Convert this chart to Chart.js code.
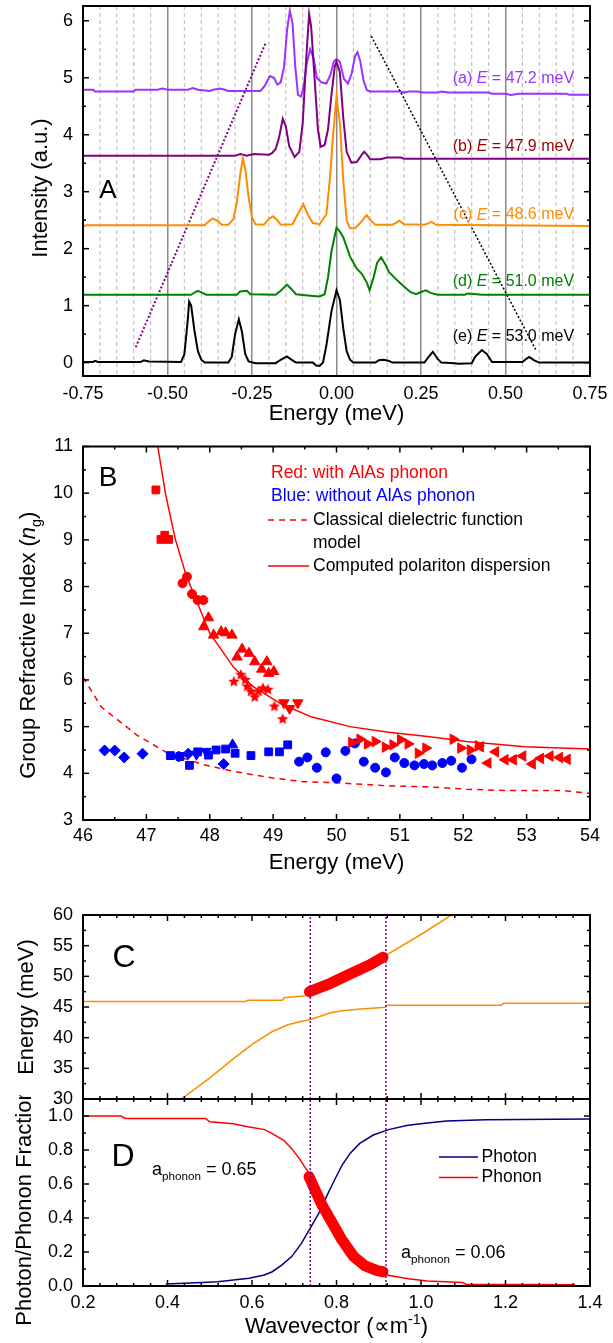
<!DOCTYPE html>
<html><head><meta charset="utf-8">
<script src="https://cdn.jsdelivr.net/npm/chart.js@4.4.1/dist/chart.umd.min.js"></script>
<style>
body{margin:0;background:#fff;width:613px;height:1343px;position:relative;overflow:hidden}
canvas{position:absolute;left:0}
</style></head><body>
<canvas id="cA" width="613" height="432" style="top:0px"></canvas>
<canvas id="cB" width="613" height="446" style="top:432px"></canvas>
<canvas id="cC" width="613" height="240" style="top:878px"></canvas>
<canvas id="cD" width="613" height="248" style="top:1095px"></canvas>
<script>
// ---------------- DATA ----------------
// Panel A: spectra [energy meV, intensity]
const specA = [[-0.75,4.79],[-0.72,4.79],[-0.715,4.76],[-0.60,4.76],[-0.595,4.79],[-0.53,4.79],[-0.515,4.81],[-0.50,4.79],[-0.44,4.79],[-0.425,4.82],[-0.41,4.79],[-0.375,4.77],[-0.365,4.79],[-0.345,4.81],[-0.33,4.79],[-0.32,4.77],[-0.225,4.77],[-0.212,4.86],[-0.197,5.03],[-0.185,5.0],[-0.175,4.88],[-0.165,4.92],[-0.155,5.2],[-0.146,5.85],[-0.138,6.18],[-0.13,5.95],[-0.122,5.2],[-0.114,4.7],[-0.105,4.67],[-0.097,4.85],[-0.088,5.25],[-0.078,5.5],[-0.068,5.35],[-0.058,5.0],[-0.045,4.92],[-0.03,4.9],[-0.018,5.05],[-0.008,5.28],[0.0,5.33],[0.01,5.28],[0.022,4.98],[0.034,4.9],[0.045,5.08],[0.055,5.38],[0.062,5.45],[0.07,5.3],[0.08,4.95],[0.09,4.78],[0.1,4.76],[0.19,4.76],[0.2,4.74],[0.215,4.76],[0.24,4.76],[0.255,4.74],[0.3,4.74],[0.31,4.76],[0.33,4.74],[0.45,4.74],[0.46,4.72],[0.5,4.72],[0.515,4.70],[0.54,4.72],[0.68,4.72],[0.69,4.70],[0.75,4.70]];
const specB = [[-0.75,3.63],[-0.30,3.63],[-0.285,3.66],[-0.265,3.63],[-0.245,3.66],[-0.20,3.65],[-0.19,3.68],[-0.18,3.75],[-0.17,3.95],[-0.159,4.28],[-0.15,4.15],[-0.14,3.8],[-0.124,3.61],[-0.11,3.7],[-0.10,4.2],[-0.09,5.3],[-0.081,6.12],[-0.075,5.9],[-0.065,5.0],[-0.055,4.1],[-0.047,3.79],[-0.035,3.82],[-0.025,4.1],[-0.015,4.7],[-0.005,5.2],[0.0,5.28],[0.01,5.1],[0.02,4.3],[0.03,3.7],[0.044,3.51],[0.06,3.52],[0.075,3.65],[0.082,3.70],[0.09,3.65],[0.10,3.57],[0.13,3.57],[0.15,3.6],[0.19,3.6],[0.2,3.58],[0.75,3.58]];
const specC = [[-0.75,2.39],[-0.74,2.41],[-0.39,2.41],[-0.38,2.47],[-0.367,2.53],[-0.35,2.48],[-0.34,2.42],[-0.32,2.42],[-0.305,2.52],[-0.295,2.8],[-0.285,3.3],[-0.277,3.58],[-0.27,3.4],[-0.26,2.9],[-0.25,2.55],[-0.24,2.43],[-0.215,2.42],[-0.20,2.52],[-0.188,2.57],[-0.175,2.5],[-0.165,2.42],[-0.13,2.43],[-0.115,2.6],[-0.098,2.78],[-0.085,2.6],[-0.07,2.45],[-0.05,2.43],[-0.03,2.6],[-0.02,3.2],[-0.01,4.0],[0.0,4.67],[0.01,4.2],[0.02,3.2],[0.03,2.5],[0.04,2.36],[0.055,2.36],[0.07,2.45],[0.089,2.59],[0.1,2.5],[0.115,2.42],[0.165,2.42],[0.175,2.45],[0.186,2.49],[0.20,2.43],[0.26,2.42],[0.27,2.44],[0.281,2.47],[0.295,2.42],[0.75,2.40]];
const specD = [[-0.75,1.19],[-0.43,1.19],[-0.42,1.23],[-0.41,1.26],[-0.395,1.22],[-0.385,1.19],[-0.295,1.19],[-0.285,1.25],[-0.265,1.26],[-0.255,1.2],[-0.18,1.19],[-0.165,1.26],[-0.147,1.37],[-0.135,1.3],[-0.12,1.2],[-0.07,1.17],[-0.05,1.16],[-0.035,1.2],[-0.025,1.5],[-0.015,1.95],[0.0,2.37],[0.01,2.3],[0.02,2.2],[0.04,1.86],[0.06,1.65],[0.075,1.56],[0.09,1.4],[0.098,1.27],[0.11,1.5],[0.12,1.75],[0.132,1.85],[0.145,1.72],[0.155,1.59],[0.175,1.47],[0.19,1.39],[0.218,1.24],[0.235,1.2],[0.25,1.24],[0.264,1.27],[0.28,1.22],[0.3,1.19],[0.38,1.19],[0.385,1.21],[0.4,1.21],[0.43,1.19],[0.75,1.19]];
const specE = [[-0.75,0.01],[-0.72,0.01],[-0.715,0.03],[-0.705,0.01],[-0.58,0.01],[-0.57,0.04],[-0.555,0.02],[-0.46,0.01],[-0.45,0.15],[-0.44,0.75],[-0.436,1.07],[-0.43,1.0],[-0.42,0.55],[-0.41,0.2],[-0.40,0.05],[-0.39,0.0],[-0.32,0.0],[-0.31,0.1],[-0.3,0.5],[-0.289,0.76],[-0.28,0.55],[-0.27,0.15],[-0.26,0.02],[-0.24,-0.01],[-0.18,-0.01],[-0.165,0.05],[-0.147,0.11],[-0.13,0.04],[-0.12,0.0],[-0.07,0.0],[-0.06,-0.05],[-0.05,-0.06],[-0.04,0.0],[-0.03,0.3],[-0.015,0.9],[0.0,1.27],[0.01,1.1],[0.02,0.6],[0.03,0.2],[0.04,0.05],[0.05,0.0],[0.115,0.0],[0.125,0.04],[0.14,0.05],[0.155,0.03],[0.165,0.0],[0.26,0.0],[0.275,0.12],[0.285,0.19],[0.3,0.06],[0.31,0.0],[0.35,-0.01],[0.36,-0.02],[0.4,-0.01],[0.41,0.1],[0.43,0.22],[0.445,0.15],[0.46,0.01],[0.55,0.01],[0.56,0.06],[0.57,0.1],[0.585,0.04],[0.6,0.0],[0.75,0.0]];
const guideLeft = [[-0.594,0.27],[-0.209,5.62]];
const guideRight = [[0.103,5.73],[0.589,0.23]];
const aXTicks = [-0.75,-0.5,-0.25,0,0.25,0.5,0.75];
const aXLabels = ['-0.75','-0.50','-0.25','0.00','0.25','0.50','0.75'];
const aYTicks = [0,1,2,3,4,5,6];
const aYLabels = ['0','1','2','3','4','5','6'];

// Panel B: group index [energy meV, n_g]
const redSquares = [[47.15,10.07],[47.23,9.01],[47.29,9.10],[47.35,9.01]];
const redCircles = [[47.57,8.07],[47.64,8.21],[47.72,7.84],[47.81,7.71],[47.90,7.71]];
const redTriUp = [[47.905,7.14],[47.98,7.33],[48.06,6.96],[48.18,7.03],[48.25,7.01],[48.35,6.96],[48.43,6.49],[48.51,6.66],[48.62,6.57],[48.71,6.39],[48.82,6.23],[48.90,6.39],[48.93,6.14],[49.01,6.18]];
const redStars = [[48.38,5.96],[48.49,6.11],[48.56,6.0],[48.59,5.86],[48.65,5.75],[48.71,5.63],[48.77,5.75],[48.84,5.82],[48.92,5.79],[49.02,5.43],[49.15,5.16]];
const redTriDown = [[49.17,5.51],[49.26,5.39],[49.39,5.51]];
const redTriRight = [[50.24,4.66],[50.37,4.73],[50.49,4.63],[50.61,4.68],[50.77,4.56],[50.89,4.61],[51.01,4.72],[51.13,4.63],[51.29,4.43],[51.41,4.54],[51.84,4.73],[51.96,4.54],[52.11,4.50],[52.24,4.59]];
const redTriLeft = [[52.27,4.57],[52.39,4.22],[52.51,4.46],[52.66,4.29],[52.79,4.29],[52.94,4.37],[53.09,4.20],[53.22,4.32],[53.37,4.37],[53.52,4.34],[53.64,4.30]];
const blueDiamonds = [[46.34,4.49],[46.5,4.49],[46.65,4.34],[46.94,4.42],[47.51,4.36],[47.66,4.42],[48.22,4.20]];
const blueSquares = [[47.38,4.38],[47.53,4.36],[47.68,4.17],[47.81,4.46],[47.98,4.39],[48.10,4.50],[48.25,4.52],[48.40,4.43],[48.65,4.38],[48.93,4.46],[49.10,4.46],[49.23,4.61]];
const blueTriUp = [[48.36,4.61]];
const blueTriDown = [[47.79,4.41],[47.94,4.47]];
const blueCircles = [[49.41,4.25],[49.54,4.34],[49.69,4.12],[49.83,4.45],[50.0,3.89],[50.14,4.48],[50.29,4.64],[50.43,4.25],[50.61,4.12],[50.78,4.02],[50.92,4.34],[51.07,4.22],[51.23,4.17],[51.38,4.20],[51.51,4.17],[51.67,4.22],[51.81,4.27],[51.98,4.12],[52.13,4.30]];
const polaritonCurve = [[47.18,11.0],[47.30,10.0],[47.39,9.43],[47.46,9.0],[47.61,8.32],[47.70,8.0],[48.0,7.0],[48.37,6.28],[48.68,5.86],[49.11,5.5],[49.6,5.21],[50.21,5.0],[50.82,4.88],[51.44,4.79],[52.05,4.68],[52.97,4.57],[54.0,4.52]];
const classicalCurve = [[46.0,6.06],[46.29,5.42],[46.85,4.82],[47.34,4.43],[47.89,4.19],[48.38,4.04],[48.99,3.90],[49.48,3.82],[49.97,3.80],[50.83,3.73],[51.44,3.71],[52.05,3.66],[52.66,3.63],[53.58,3.63],[54.0,3.57]];
const bXTicks = [46,47,48,49,50,51,52,53,54];
const bXLabels = ['46','47','48','49','50','51','52','53','54'];
const bYTicks = [3,4,5,6,7,8,9,10,11];
const bYLabels = ['3','4','5','6','7','8','9','10','11'];

// Panel C: dispersion [wavevector, energy meV]
const upperBranch = [[0.2,45.9],[0.585,45.9],[0.59,46.1],[0.672,46.1],[0.676,46.5],[0.72,46.8],[0.74,47.1],[0.76,47.7],[0.8,48.9],[0.85,50.6],[0.9,52.5],[0.917,53.4],[0.997,56.7],[1.07,59.9],[1.1,61.2]];
const lowerBranch = [[0.433,30.0],[0.501,33.5],[0.56,36.8],[0.602,39.0],[0.648,41.0],[0.685,42.1],[0.713,42.6],[0.74,43.0],[0.786,44.07],[0.813,44.4],[0.85,44.65],[0.915,44.95],[0.92,45.3],[1.19,45.3],[1.195,45.6],[1.4,45.6]];
const measuredDisp = [[0.736,47.5],[0.786,48.86],[0.832,50.38],[0.878,51.85],[0.91,53.1]];
const kMarks = [0.738, 0.917];
const cYTicks = [30,35,40,45,50,55,60];
const cYLabels = ['30','35','40','45','50','55','60'];
const kTicks = [0.2,0.4,0.6,0.8,1.0,1.2,1.4];
const kLabels = ['0.2','0.4','0.6','0.8','1.0','1.2','1.4'];

// Panel D: fractions [wavevector, fraction]
const photonFrac = [[0.396,0.012],[0.482,0.02],[0.519,0.025],[0.556,0.035],[0.593,0.045],[0.629,0.065],[0.648,0.084],[0.671,0.124],[0.694,0.173],[0.717,0.251],[0.74,0.349],[0.758,0.427],[0.776,0.524],[0.795,0.622],[0.813,0.71],[0.832,0.78],[0.855,0.839],[0.887,0.888],[0.923,0.92],[0.969,0.945],[1.015,0.959],[1.061,0.971],[1.153,0.978],[1.4,0.982]];
const phononFrac = [[0.2,1.0],[0.29,1.0],[0.3,0.986],[0.49,0.986],[0.5,0.966],[0.556,0.955],[0.59,0.937],[0.63,0.92],[0.648,0.896],[0.675,0.857],[0.694,0.808],[0.712,0.749],[0.726,0.696],[0.736,0.66],[0.753,0.56],[0.786,0.39],[0.813,0.27],[0.841,0.172],[0.868,0.118],[0.896,0.09],[0.919,0.065],[0.97,0.043],[1.015,0.029],[1.098,0.02],[1.107,0.01],[1.365,0.008]];
const measuredFrac = [[0.735,0.643],[0.753,0.545],[0.767,0.47],[0.786,0.388],[0.813,0.271],[0.841,0.172],[0.868,0.118],[0.896,0.09],[0.91,0.084]];
const dYTicks = [0,0.2,0.4,0.6,0.8,1.0];
const dYLabels = ['0.0','0.2','0.4','0.6','0.8','1.0'];

// ---------------- HELPERS ----------------
const FF = "'Liberation Sans', Arial, Helvetica, sans-serif";
Chart.defaults.font.family = FF;
Chart.defaults.color = '#000';
const xy = a => a.map(p => ({x:p[0], y:p[1]}));
const range = (a,b,s) => { const r=[]; for(let v=a; v<=b+1e-9; v+=s) r.push(+v.toFixed(6)); return r; };

function lineDS(data, color, width, dash, order, extra){
  return Object.assign({data: xy(data), showLine:true, borderColor:color, backgroundColor:color,
    borderWidth:width, borderDash:dash||[], pointRadius:0, pointHoverRadius:0, tension:0, fill:false, order:order||1}, extra||{});
}
function ptDS(data, color, style, radius, rot){
  return {data: xy(data), showLine:false, pointStyle:style, pointRadius:radius, pointHoverRadius:radius,
    pointRotation:rot||0, rotation:rot||0, backgroundColor:color, borderColor:color, pointBorderWidth:1, borderWidth:1, order:0};
}
function axis(pos, min, max, ticks, labels, size, pad){
  const vertical = (pos==='left'||pos==='right');
  return {type:'linear', position:pos, min:min, max:max,
    grid:{display:false, drawTicks:false}, border:{display:false},
    ticks:{display: !!labels, padding:pad, font:{size:18, family:FF}, color:'#000', autoSkip:false, maxRotation:0,
      callback:(v,i)=> labels ? labels[i] : ''},
    afterBuildTicks: s => { s.ticks = ticks.map(v => ({value:v})); },
    afterFit: s => { if(vertical){ s.width=size; s.paddingTop=0; s.paddingBottom=0; } else { s.height=size; s.paddingLeft=0; s.paddingRight=0; } }
  };
}
function rich(ctx, segs, x, y, size, color, align, rot){
  ctx.save();
  ctx.translate(x,y); if(rot) ctx.rotate(rot);
  ctx.fillStyle=color; ctx.textBaseline='middle';
  const parts = segs.map(s => {
    const small = s.sub||s.sup; const sz = small ? size*(s.scale||0.65) : size;
    const f = (s.i?'italic ':'') + sz + 'px ' + FF; ctx.font=f;
    return {t:s.t, f:f, w:ctx.measureText(s.t).width, dy: s.sub ? size*0.38 : (s.sup ? -size*0.33 : 0)};
  });
  const W = parts.reduce((a,p)=>a+p.w,0);
  let cx = align==='right' ? -W : (align==='center' ? -W/2 : 0);
  parts.forEach(p => { ctx.font=p.f; ctx.fillText(p.t, cx, p.dy); cx += p.w; });
  ctx.restore();
}
// ticks drawn inside the frame at scale values, plus frame
function deco(cfg){
  return {id:'deco',
    beforeDatasetsDraw(chart){ if(cfg.under) cfg.under(chart); },
    afterDatasetsDraw(chart){
      const ctx=chart.ctx, a=chart.chartArea;
      ctx.save(); ctx.strokeStyle='#000'; ctx.lineWidth=1.5;
      (cfg.ticks||[]).forEach(t => {
        const sc = chart.scales[t.axis];
        const items = t.major.map(v=>[v,6]).concat((t.minor||[]).map(v=>[v,3]));
        items.forEach(([v,len]) => {
          const p = sc.getPixelForValue(v);
          t.sides.forEach(side => {
            ctx.beginPath();
            if(side==='bottom'){ ctx.moveTo(p,a.bottom); ctx.lineTo(p,a.bottom-len); }
            if(side==='top'){ ctx.moveTo(p,a.top); ctx.lineTo(p,a.top+len); }
            if(side==='left'){ ctx.moveTo(a.left,p); ctx.lineTo(a.left+len,p); }
            if(side==='right'){ ctx.moveTo(a.right,p); ctx.lineTo(a.right-len,p); }
            ctx.stroke();
          });
        });
      });
      ctx.lineWidth=2; ctx.strokeRect(a.left, a.top, a.right-a.left, a.bottom-a.top);
      ctx.restore();
      if(cfg.over) cfg.over(chart);
    }
  };
}
function baseOpts(padTop, scales){
  return {responsive:false, animation:false, devicePixelRatio:1,
    layout:{padding:{left:0, right:23, top:padTop, bottom:0}},
    plugins:{legend:{display:false}, tooltip:{enabled:false}},
    events:[], scales:scales};
}
function starImg(r, color){
  const c=document.createElement('canvas'); c.width=c.height=2*r+2;
  const g=c.getContext('2d'); g.fillStyle=color; g.beginPath();
  for(let i=0;i<10;i++){ const ang=-Math.PI/2+i*Math.PI/5; const rr=(i%2)? r*0.45 : r;
    g.lineTo(r+1+rr*Math.cos(ang), r+1+rr*Math.sin(ang)); }
  g.closePath(); g.fill(); return c;
}

// ---------------- PANEL A ----------------
const VIOLET='#9933FF', PURPLE='#800080', ORANGE='#FF8C00', GREEN='#008000';
{
  const xs = axis('bottom', -0.75, 0.75, aXTicks, aXLabels, 56, 7);
  xs.grid = {display:true, drawTicks:false, color:'#8a8a8a', lineWidth:1.5};
  const ys = axis('left', -0.235, 6.26, aYTicks, aYLabels, 83, 10);
  new Chart(document.getElementById('cA'), {type:'scatter',
    data:{datasets:[
      lineDS(specC, ORANGE, 2, [], 1),
      lineDS(specB, PURPLE, 2, [], 2),
      lineDS(specA, VIOLET, 2, [], 3),
      lineDS(specD, GREEN, 2, [], 1),
      lineDS(specE, '#000', 2, [], 1),
      lineDS(guideLeft, PURPLE, 2, [2,2], 0),
      lineDS(guideRight, '#000', 1.5, [2,2], 0)
    ]},
    options: baseOpts(6, {x:xs, y:ys}),
    plugins:[deco({
      under(chart){
        const ctx=chart.ctx, a=chart.chartArea, sx=chart.scales.x;
        ctx.save(); ctx.strokeStyle='#c4c4c4'; ctx.lineWidth=1.2; ctx.setLineDash([4,3]);
        range(-0.75,0.75,0.05).forEach(v => {
          if(Math.abs(v/0.25 - Math.round(v/0.25)) < 1e-6) return;
          const p=sx.getPixelForValue(v);
          ctx.beginPath(); ctx.moveTo(p,a.top); ctx.lineTo(p,a.bottom); ctx.stroke();
        });
        ctx.restore();
      },
      ticks:[{axis:'y', major:aYTicks, minor:range(0.5,5.5,1), sides:['left','right']}],
      over(chart){
        const ctx=chart.ctx, a=chart.chartArea, sx=chart.scales.x, sy=chart.scales.y;
        const rx = sx.getPixelForValue(0.703);
        rich(ctx,[{t:'(a) '},{t:'E',i:true},{t:' = 47.2 meV'}], rx, sy.getPixelForValue(4.99), 16, VIOLET, 'right');
        rich(ctx,[{t:'(b) '},{t:'E',i:true},{t:' = 47.9 meV'}], rx, sy.getPixelForValue(3.80), 16, '#990000', 'right');
        rich(ctx,[{t:'(c) '},{t:'E',i:true},{t:' = 48.6 meV'}], rx, sy.getPixelForValue(2.59), 16, ORANGE, 'right');
        rich(ctx,[{t:'(d) '},{t:'E',i:true},{t:' = 51.0 meV'}], rx, sy.getPixelForValue(1.43), 16, GREEN, 'right');
        rich(ctx,[{t:'(e) '},{t:'E',i:true},{t:' = 53.0 meV'}], rx, sy.getPixelForValue(0.46), 16, '#000', 'right');
        rich(ctx,[{t:'A'}], a.left+25, (a.top+a.bottom)/2, 26, '#000', 'center');
        rich(ctx,[{t:'Energy (meV)'}], (a.left+a.right)/2, a.bottom+38, 22, '#000', 'center');
        rich(ctx,[{t:'Intensity (a.u.)'}], 41, (a.top+a.bottom)/2-3, 22, '#000', 'center', -Math.PI/2);
      }
    })]
  });
}

// ---------------- PANEL B ----------------
{
  const xs = axis('bottom', 46, 54, bXTicks, bXLabels, 58, 5);
  const ys = axis('left', 3, 11, bYTicks, bYLabels, 83, 10);
  const RED='#FF0000', BLUE='#0000FF';
  new Chart(document.getElementById('cB'), {type:'scatter',
    data:{datasets:[
      lineDS(polaritonCurve, RED, 1.5, [], 2),
      lineDS(classicalCurve, RED, 1.5, [6,5], 2),
      ptDS(redSquares, RED, 'rect', 5.5),
      ptDS(redCircles, RED, 'circle', 4.5),
      ptDS(redTriUp, RED, 'triangle', 6),
      ptDS(redStars, RED, starImg(6, RED), 6),
      ptDS(redTriDown, RED, 'triangle', 6, 180),
      ptDS(redTriRight, RED, 'triangle', 6, 90),
      ptDS(redTriLeft, RED, 'triangle', 6, 270),
      ptDS(blueDiamonds, BLUE, 'rectRot', 5.5),
      ptDS(blueSquares, BLUE, 'rect', 5.5),
      ptDS(blueTriUp, BLUE, 'triangle', 6),
      ptDS(blueTriDown, BLUE, 'triangle', 6, 180),
      ptDS(blueCircles, BLUE, 'circle', 4.5)
    ]},
    options: baseOpts(14.5, {x:xs, y:ys}),
    plugins:[deco({
      ticks:[{axis:'x', major:bXTicks, minor:range(46.5,53.5,1), sides:['bottom','top']},
             {axis:'y', major:bYTicks, minor:range(3.5,10.5,1), sides:['left','right']}],
      over(chart){
        const ctx=chart.ctx, a=chart.chartArea;
        const lx = a.left+188, tx = a.left+230;
        rich(ctx,[{t:'Red: with AlAs phonon'}], lx, a.top+27, 17.5, RED, 'left');
        rich(ctx,[{t:'Blue: without AlAs phonon'}], lx, a.top+49.5, 17.5, BLUE, 'left');
        ctx.save(); ctx.strokeStyle=RED; ctx.lineWidth=1.5;
        ctx.setLineDash([6,5]); ctx.beginPath(); ctx.moveTo(a.left+185,a.top+73.5); ctx.lineTo(a.left+226,a.top+73.5); ctx.stroke();
        ctx.setLineDash([]); ctx.beginPath(); ctx.moveTo(a.left+185,a.top+119.5); ctx.lineTo(a.left+226,a.top+119.5); ctx.stroke();
        ctx.restore();
        rich(ctx,[{t:'Classical dielectric function'}], tx, a.top+73.5, 17.5, '#000', 'left');
        rich(ctx,[{t:'model'}], tx, a.top+96.5, 17.5, '#000', 'left');
        rich(ctx,[{t:'Computed polariton dispersion'}], tx, a.top+119.5, 17.5, '#000', 'left');
        rich(ctx,[{t:'B'}], a.left+25, a.top+31.5, 28, '#000', 'center');
        rich(ctx,[{t:'Energy (meV)'}], (a.left+a.right)/2, a.bottom+43, 22, '#000', 'center');
        rich(ctx,[{t:'Group Refractive Index ('},{t:'n',i:true},{t:'g',sub:true},{t:')'}], 29, (a.top+a.bottom)/2+12, 22, '#000', 'center', -Math.PI/2);
      }
    })]
  });
}

// ---------------- PANEL C ----------------
const MAG='#800080';
{
  const xs = axis('bottom', 0.2, 1.4, kTicks, null, 19, 0);
  const ys = axis('left', 30, 60, cYTicks, cYLabels, 83, 10);
  new Chart(document.getElementById('cC'), {type:'scatter',
    data:{datasets:[
      lineDS([[kMarks[0],30],[kMarks[0],60]], MAG, 1.5, [2,2], 0),
      lineDS([[kMarks[1],30],[kMarks[1],60]], MAG, 1.5, [2,2], 0),
      lineDS(measuredDisp, '#FF0000', 11, [], 1, {borderCapStyle:'round', borderJoinStyle:'round'}),
      lineDS(upperBranch, ORANGE, 1.5, [], 2),
      lineDS(lowerBranch, ORANGE, 1.5, [], 2)
    ]},
    options: baseOpts(37, {x:xs, y:ys}),
    plugins:[deco({
      ticks:[{axis:'x', major:kTicks, minor:range(0.24,1.36,0.04).filter(v=>Math.abs(v*5-Math.round(v*5))>1e-6), sides:['top','bottom']},
             {axis:'y', major:cYTicks, minor:range(32.5,57.5,5), sides:['left','right']}],
      over(chart){
        const ctx=chart.ctx, a=chart.chartArea;
        rich(ctx,[{t:'C'}], a.left+41, a.top+43, 32, '#000', 'center');
        rich(ctx,[{t:'Energy (meV)'}], 27, (a.top+a.bottom)/2, 22, '#000', 'center', -Math.PI/2);
      }
    })]
  });
}

// ---------------- PANEL D ----------------
{
  const xs = axis('bottom', 0.2, 1.4, kTicks, kLabels, 57, 6);
  const ys = axis('left', 0, 1.1, dYTicks, dYLabels, 83, 10);
  new Chart(document.getElementById('cD'), {type:'scatter',
    data:{datasets:[
      lineDS([[kMarks[0],0],[kMarks[0],1.1]], MAG, 1.5, [2,2], 0),
      lineDS([[kMarks[1],0],[kMarks[1],1.1]], MAG, 1.5, [2,2], 0),
      lineDS(measuredFrac, '#FF0000', 11, [], 1, {borderCapStyle:'round', borderJoinStyle:'round'}),
      lineDS(photonFrac, '#000080', 1.5, [], 2),
      lineDS(phononFrac, '#FF0000', 1.5, [], 2)
    ]},
    options: baseOpts(4, {x:xs, y:ys}),
    plugins:[deco({
      ticks:[{axis:'x', major:kTicks, minor:range(0.24,1.36,0.04).filter(v=>Math.abs(v*5-Math.round(v*5))>1e-6), sides:['top','bottom']},
             {axis:'y', major:dYTicks, minor:range(0.1,0.9,0.2), sides:['left','right']}],
      over(chart){
        const ctx=chart.ctx, a=chart.chartArea;
        ctx.save(); ctx.lineWidth=1.5;
        ctx.strokeStyle='#000080'; ctx.beginPath(); ctx.moveTo(a.left+356,a.top+58); ctx.lineTo(a.left+395,a.top+58); ctx.stroke();
        ctx.strokeStyle='#FF0000'; ctx.beginPath(); ctx.moveTo(a.left+356,a.top+78.5); ctx.lineTo(a.left+395,a.top+78.5); ctx.stroke();
        ctx.restore();
        rich(ctx,[{t:'Photon'}], a.left+398.5, a.top+58, 17.5, '#000', 'left');
        rich(ctx,[{t:'Phonon'}], a.left+398.5, a.top+78.5, 17.5, '#000', 'left');
        rich(ctx,[{t:'a'},{t:'phonon',sub:true},{t:' = 0.65'}], a.left+69, a.top+71, 18, '#000', 'left');
        rich(ctx,[{t:'a'},{t:'phonon',sub:true},{t:' = 0.06'}], a.left+318, a.top+154, 18, '#000', 'left');
        rich(ctx,[{t:'D'}], a.left+40, a.top+58, 32, '#000', 'center');
        rich(ctx,[{t:'Wavevector (\u221Dm'},{t:'-1',sup:true},{t:')'}], (a.left+a.right)/2, a.bottom+41, 22, '#000', 'center');
        rich(ctx,[{t:'Photon/Phonon Fraction'}], 25, (a.top+a.bottom)/2+14.5, 22, '#000', 'center', -Math.PI/2);
      }
    })]
  });
}
</script>
</body></html>
